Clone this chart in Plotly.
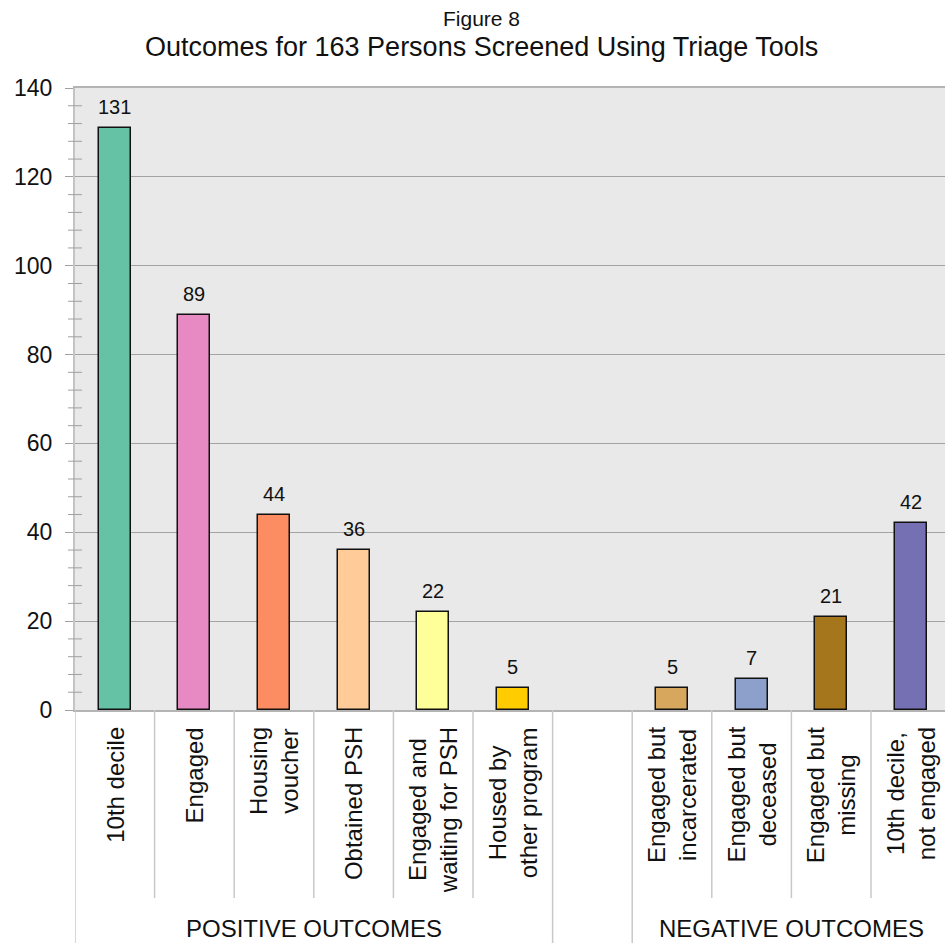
import plotly.graph_objects as go

# Outcome categories and counts
positive_labels = ["10th decile", "Engaged", "Housing<br>voucher", "Obtained PSH",
                   "Engaged and<br>waiting for PSH", "Housed by<br>other program"]
positive_values = [131, 89, 44, 36, 22, 5]
negative_labels = ["Engaged but<br>incarcerated", "Engaged but<br>deceased",
                   "Engaged but<br>missing", "10th decile,<br>not engaged"]
negative_values = [5, 7, 21, 42]
group_names = ["POSITIVE OUTCOMES", "NEGATIVE OUTCOMES"]

positive_colors = ["#66C2A5", "#E78AC3", "#FC8D62", "#FFCC99", "#FFFF99", "#FFCC00"]
negative_colors = ["#D8A75E", "#8DA0CB", "#A6761D", "#7570B3"]

y_ticks = list(range(0, 141, 20))
minor_step = 4

FONT = "Liberation Sans, Arial, sans-serif"
SPACER = " "

categories = positive_labels + [SPACER] + negative_labels
values = positive_values + [None] + negative_values
colors = positive_colors + ["rgba(0,0,0,0)"] + negative_colors

fig = go.Figure()
fig.add_trace(go.Bar(
    x=categories, y=values, width=0.4,
    marker=dict(color=colors, line=dict(color="#111111", width=1.5)),
    hoverinfo="x+y",
))

annotations = []
# value labels above bars
for cat, v in zip(categories, values):
    if v is None:
        continue
    annotations.append(dict(x=cat, y=v, xref="x", yref="y", text=str(v),
                            showarrow=False, yanchor="bottom", yshift=8,
                            font=dict(family=FONT, size=20, color="#111111")))
# rotated category labels under the axis
for cat in categories:
    if cat == SPACER:
        continue
    annotations.append(dict(x=cat, y=0, xref="x", yref="paper", text=cat,
                            showarrow=False, textangle=-90, align="center",
                            xanchor="center", yanchor="top", yshift=-15,
                            font=dict(family=FONT, size=24, color="#111111")))

n_pos = len(positive_labels)
n_all = len(categories)
plot_w = 870.0
plot_h = 622.0

# group labels
annotations.append(dict(x=(-0.5 + n_pos - 0.5) / 2, y=-218 / plot_h, xref="x", yref="paper",
                        text=group_names[0], showarrow=False, yanchor="middle",
                        font=dict(family=FONT, size=24, color="#111111")))
annotations.append(dict(x=(n_pos + 0.5 + n_all - 0.5) / 2, y=-218 / plot_h, xref="x", yref="paper",
                        text=group_names[1], showarrow=False, yanchor="middle",
                        font=dict(family=FONT, size=24, color="#111111")))

# titles
title_x = (481 - 75) / plot_w
annotations.append(dict(x=title_x, y=1 + (88 - 18) / plot_h, xref="paper", yref="paper",
                        text="Figure 8", showarrow=False, yanchor="middle",
                        font=dict(family=FONT, size=21, color="#111111")))
annotations.append(dict(x=title_x, y=1 + (88 - 47) / plot_h, xref="paper", yref="paper",
                        text="Outcomes for 163 Persons Screened Using Triage Tools",
                        showarrow=False, yanchor="middle",
                        font=dict(family=FONT, size=27, color="#111111")))

shapes = []
sep_color = "#C8C8C8"
# category separators below the axis
for k in range(n_all + 1):
    pos = k - 0.5
    long_line = k in (0, n_pos, n_pos + 1)
    bottom = -240 / plot_h if long_line else -188 / plot_h
    shapes.append(dict(type="line", xref="x", yref="paper", x0=pos, x1=pos,
                       y0=0, y1=bottom, line=dict(color=sep_color, width=1.5)))
# minor ticks on the value axis
for m in range(minor_step, 140, minor_step):
    if m % 20 == 0:
        continue
    shapes.append(dict(type="line", xref="paper", yref="y", x0=-7 / plot_w, x1=7 / plot_w,
                       y0=m, y1=m, line=dict(color="#A0A0A0", width=1)))

fig.update_layout(
    width=945, height=943,
    margin=dict(l=75, r=0, t=88, b=233, pad=0),
    paper_bgcolor="white",
    plot_bgcolor="#E9E9E9",
    showlegend=False,
    bargap=0,
    annotations=annotations,
    shapes=shapes,
    font=dict(family=FONT, color="#111111"),
)
fig.update_xaxes(
    type="category", range=[-0.5, -0.5 + plot_w / 79.6],
    showticklabels=False, ticks="", showgrid=False,
    showline=True, mirror=True, linecolor="#B4B4B4", linewidth=2,
    fixedrange=True,
)
fig.update_yaxes(
    range=[0, 140], tickvals=y_ticks, ticks="outside", ticklen=8, tickcolor="#A0A0A0",
    tickwidth=1, ticklabelstandoff=8,
    tickfont=dict(family=FONT, size=23, color="#111111"),
    showgrid=True, gridcolor="#A3A3A3", gridwidth=1, zeroline=False,
    showline=True, linecolor="#C4C4C4", linewidth=2,
    fixedrange=True,
)

fig.write_html("out.html")
